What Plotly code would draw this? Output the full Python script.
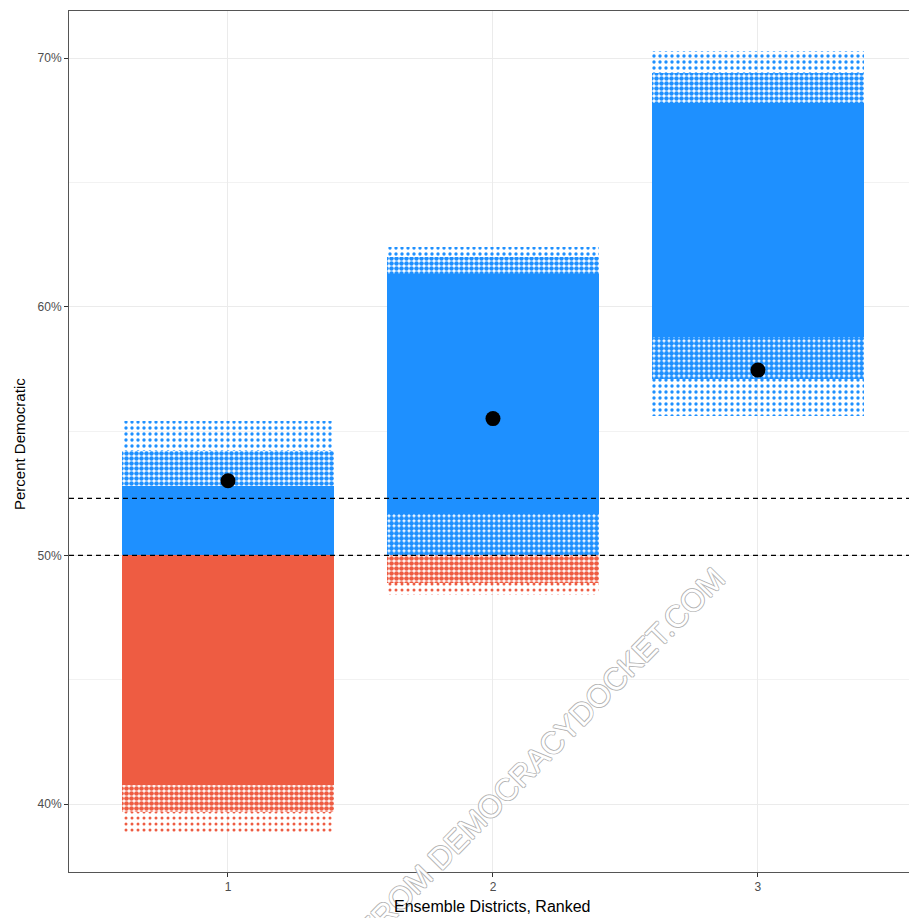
import plotly.graph_objects as go

# ---------------- data ----------------
districts = [1, 2, 3]
tick_labels_x = ["1", "2", "3"]
y_tickvals = [40, 50, 60, 70]
y_ticktext = ["40%", "50%", "60%", "70%"]

# enacted plan (black dots), percent Democratic
enacted = [53.0, 55.5, 57.45]

# dense core of the ensemble cloud (Democratic-won = blue, Republican-won = red)
blue_core_low = [50.0, 51.65, 58.8]
blue_core_high = [52.8, 61.3, 68.2]
red_core_low = [40.75, None, None]
red_core_high = [50.0, None, None]

# scattered fringes of the cloud: (low, high) per district
blue_upper_dense_low = [52.8, 61.3, 68.2]
blue_upper_dense_high = [54.2, 62.0, 69.4]
blue_upper_sparse_low = [54.2, 62.0, 69.4]
blue_upper_sparse_high = [55.4, 62.4, 70.3]
blue_lower_dense_low = [None, 50.0, 57.1]
blue_lower_dense_high = [None, 51.65, 58.8]
blue_lower_sparse_low = [None, None, 55.6]
blue_lower_sparse_high = [None, None, 57.1]
red_lower_dense_low = [39.7, 48.9, None]
red_lower_dense_high = [40.75, 50.0, None]
red_lower_sparse_low = [38.8, 48.4, None]
red_lower_sparse_high = [39.7, 48.9, None]

threshold_lines = [50.0, 52.29]

x_title = "Ensemble Districts, Ranked"
y_title = "Percent Democratic"
watermark = "RETRIEVED FROM DEMOCRACYDOCKET.COM"

BLUE = "#1E90FF"
RED = "#EE5C42"

fig = go.Figure()


def band(lows, highs, color, solidity=None, size=6):
    xs, bases, hs = [], [], []
    for d, lo, hi in zip(districts, lows, highs):
        if lo is None or hi is None:
            continue
        xs.append(d)
        bases.append(lo)
        hs.append(hi - lo)
    marker = dict(color=color, line=dict(width=0))
    if solidity is not None:
        marker = dict(
            color="rgba(0,0,0,0)",
            line=dict(width=0),
            pattern=dict(shape=".", fgcolor=color, bgcolor="rgba(0,0,0,0)",
                         size=size, solidity=solidity, fillmode="overlay", fgopacity=1),
        )
    fig.add_trace(go.Bar(x=xs, y=hs, base=bases, width=0.8, marker=marker,
                         hoverinfo="skip", showlegend=False))


band(red_core_low, red_core_high, RED)
band(blue_core_low, blue_core_high, BLUE)
band(blue_upper_dense_low, blue_upper_dense_high, BLUE, 0.65, 5)
band(blue_upper_sparse_low, blue_upper_sparse_high, BLUE, 0.25, 6)
band(blue_lower_dense_low, blue_lower_dense_high, BLUE, 0.75, 5)
band(blue_lower_sparse_low, blue_lower_sparse_high, BLUE, 0.25, 6)
band(red_lower_dense_low, red_lower_dense_high, RED, 0.7, 5)
band(red_lower_sparse_low, red_lower_sparse_high, RED, 0.2, 6)

fig.add_trace(go.Scatter(x=districts, y=enacted, mode="markers",
                         marker=dict(color="black", size=15),
                         hoverinfo="skip", showlegend=False))

for yv in threshold_lines:
    fig.add_shape(type="line", xref="paper", x0=0, x1=1, yref="y", y0=yv, y1=yv,
                  line=dict(color="black", width=1.3, dash="5px,4px"), layer="above")

# watermark (mostly running off the bottom edge, as in the source)
fig.add_annotation(text=watermark, xref="paper", yref="paper", x=0.485, y=0.06,
                   xanchor="center", yanchor="middle",
                   showarrow=False, textangle=-45.5,
                   font=dict(family="Liberation Sans, Arial", size=31, color="white",
                             shadow="-1px 0 #b4b4b4, 1px 0 #b4b4b4, 0 -1px #b4b4b4, 0 1px #b4b4b4"))

# axis titles
fig.add_annotation(text=x_title, xref="paper", yref="paper", x=(492 - 69) / 840, y=-(907 - 872) / 861,
                   xanchor="center", yanchor="middle", showarrow=False,
                   font=dict(family="Liberation Sans, Arial", size=16, color="black"))
fig.add_annotation(text=y_title, xref="paper", yref="paper", x=-(69 - 19) / 840, y=(872 - 444) / 861,
                   xanchor="center", yanchor="middle", showarrow=False, textangle=-90,
                   font=dict(family="Liberation Sans, Arial", size=15, color="black"))

fig.update_layout(
    width=909, height=918,
    margin=dict(l=69, r=0, t=11, b=46),
    paper_bgcolor="white", plot_bgcolor="white",
    barmode="overlay", bargap=0,
    font=dict(family="Liberation Sans, Arial", color="#4D4D4D"),
    xaxis=dict(
        range=[0.4, 3.57], tickvals=districts, ticktext=tick_labels_x,
        showgrid=True, gridcolor="#EBEBEB", gridwidth=1, zeroline=False,
        showline=True, linecolor="#555555", linewidth=1, mirror=True,
        ticks="outside", ticklen=4, tickcolor="#333333",
        tickfont=dict(size=12, color="#4D4D4D"), automargin=False,
    ),
    yaxis=dict(
        range=[37.27, 71.89], tickvals=y_tickvals, ticktext=y_ticktext,
        showgrid=True, gridcolor="#EBEBEB", gridwidth=1, zeroline=False,
        showline=True, linecolor="#555555", linewidth=1,
        ticks="outside", ticklen=4, tickcolor="#333333",
        tickfont=dict(size=12, color="#4D4D4D"), automargin=False,
        minor=dict(tickvals=[45, 55, 65], showgrid=True, gridcolor="#F2F2F2", gridwidth=0.6, ticks=""),
    ),
)

fig.write_html("out.html", config={"displayModeBar": False},
               post_script="document.body.style.margin='0';document.body.style.overflow='hidden';")
